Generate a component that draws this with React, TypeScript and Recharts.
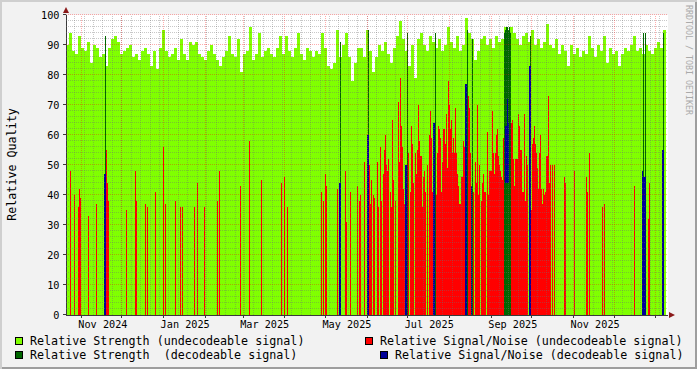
import React from 'react';
import { ComposedChart, Area, XAxis, YAxis, ReferenceLine, CartesianGrid } from 'recharts';

// ---- time base (one consolidated RRD row per step) ----
const DAY_MS = 86400000;
const START_MS = Date.UTC(2024, 9, 20, 15, 36);
const STEP_MS = 64066000;
const STEPS = 602;
const END_MS = START_MS + STEPS * STEP_MS;

// Relative Strength (undecodeable signal), one value per 3 steps
const STRENGTH_UNDEC = [
  90, 94, 88, 87, 93, 89, 88, 91, 84, 90, 89, 86, 87, 83, 89, 92, 93, 91, 87, 88, 89, 90, 86, 87, 85, 88, 89, 87, 83, 88, 82, 89, 95,
  88, 86, 87, 89, 85, 92, 87, 85, 91, 90, 91, 87, 86, 85, 88, 90, 87, 85, 83, 86, 88, 93, 87, 86, 92, 81, 87, 88, 96, 85, 87, 94, 86,
  88, 89, 87, 86, 89, 93, 87, 93, 88, 86, 89, 94, 87, 85, 89, 88, 86, 88, 87, 94, 89, 83, 82, 84, 95, 86, 90, 94, 86, 78, 84, 89, 89, 86, 95, 88,
  81, 86, 90, 88, 91, 87, 84, 89, 93, 98, 92, 88, 83, 90, 79, 92, 94, 90, 88, 93, 91, 89, 92, 88, 90, 96, 91, 89, 93, 88, 90, 99, 94, 92, 85,
  88, 92, 93, 90, 92, 89, 93, 91, 92, 96, 95, 96, 94, 92, 90, 93, 94, 91, 95, 90, 92, 89, 91, 97, 90, 89, 92, 87, 90, 88, 83, 90, 87, 89, 86,
  88, 87, 93, 89, 86, 90, 88, 93, 84, 89, 87, 88, 83, 87, 89, 88, 90, 93, 88, 89, 87, 90, 88, 87, 89, 91, 89, 95,
];

// Relative Signal/Noise (undecodeable signal): [step, value]
const SNR_UNDEC: [number, number][] = [
  [4, 48], [8, 40], [12, 36], [13, 42], [14, 39], [22, 33], [30, 37], [40, 55], [41, 44], [42, 38], [60, 35], [69, 48], [70, 38],
  [79, 37], [81, 36], [89, 41], [97, 56], [99, 37], [109, 38], [114, 36], [116, 36], [128, 36], [131, 44], [138, 36], [151, 38],
  [153, 48], [174, 43], [183, 58], [195, 45], [215, 44], [218, 46], [221, 36], [255, 41], [257, 38], [259, 47], [260, 43], [271, 42],
  [279, 48], [280, 31], [284, 41], [291, 43], [293, 38], [294, 40], [298, 51], [303, 50], [304, 37], [305, 45], [307, 40], [308, 39],
  [311, 51], [312, 36], [314, 56], [315, 38], [317, 47], [318, 55], [319, 60], [320, 50], [321, 48], [322, 52], [324, 41], [325, 36],
  [326, 65], [327, 45], [329, 38], [332, 71], [333, 51], [334, 79], [335, 63], [336, 56], [337, 42], [338, 37], [342, 54], [344, 41],
  [345, 63], [346, 57], [347, 44], [349, 54], [350, 47], [351, 55], [352, 70], [353, 58], [354, 53], [355, 53], [356, 36], [357, 46],
  [358, 48], [359, 41], [361, 50], [363, 60], [364, 68], [365, 59], [366, 41], [370, 40], [371, 54], [372, 63], [373, 62], [374, 59],
  [375, 41], [376, 51], [377, 62], [378, 62], [379, 57], [380, 67], [381, 49], [382, 78], [383, 70], [384, 62], [385, 65], [386, 54],
  [387, 59], [388, 54], [389, 69], [390, 54], [391, 47], [392, 43], [393, 37], [394, 37], [395, 46], [396, 46], [397, 58], [398, 56],
  [402, 73], [403, 69], [404, 54], [407, 41], [409, 51], [410, 44], [411, 70], [412, 40], [413, 50], [415, 38], [416, 44], [417, 47],
  [418, 41], [419, 41], [421, 61], [422, 40], [423, 48], [424, 48], [425, 48], [426, 68], [427, 54], [428, 47], [429, 54], [430, 60],
  [431, 62], [432, 53], [433, 50], [434, 48], [435, 46], [436, 45], [437, 59], [445, 64], [446, 65], [447, 52], [448, 43], [449, 52],
  [450, 52], [451, 52], [452, 67], [453, 63], [454, 55], [455, 55], [456, 41], [457, 41], [458, 67], [459, 38], [460, 53], [461, 50],
  [465, 35], [466, 57], [467, 59], [468, 63], [469, 57], [470, 54], [471, 49], [472, 42], [473, 54], [474, 60], [475, 42], [476, 37],
  [477, 42], [478, 40], [479, 41], [480, 53], [481, 53], [482, 73], [483, 44], [484, 50], [486, 50], [488, 50], [498, 46], [499, 44],
  [508, 48], [520, 46], [521, 41], [523, 54], [536, 36], [538, 37], [568, 43], [582, 32], [583, 44],
];

// Relative Strength (decodeable signal): [step, value]
const STRENGTH_DEC: [number, number][] = [
  [39, 93], [274, 91], [302, 95], [341, 94], [369, 94], [401, 95], [406, 92], [438, 94], [439, 95], [440, 96], [441, 96],
  [442, 95], [443, 96], [444, 94], [464, 93], [577, 94], [579, 94], [597, 94],
];

// Relative Signal/Noise (decodeable signal): [step, top, bottom]
const SNR_DEC: [number, number, number][] = [
  [38, 47, 0], [39, 47, 0], [273, 44, 0], [274, 44, 0], [301, 60, 0], [302, 60, 0], [339, 50, 0], [340, 50, 0], [367, 64, 0],
  [368, 64, 0], [399, 77, 0], [400, 77, 0], [405, 43, 0], [439, 63, 44], [440, 63, 44], [441, 72, 44], [442, 64, 44],
  [463, 83, 0], [464, 83, 0], [576, 48, 0], [577, 46, 0], [578, 46, 0], [579, 46, 0], [596, 55, 0], [597, 55, 0],
];

const Y_TICKS = [0, 10, 20, 30, 40, 50, 60, 70, 80, 90, 100];
const MONTH_NAMES = ['Jan', 'Feb', 'Mar', 'Apr', 'May', 'Jun', 'Jul', 'Aug', 'Sep', 'Oct', 'Nov', 'Dec'];
const LABEL_MONTHS: [number, number][] = [[2024, 10], [2025, 0], [2025, 2], [2025, 4], [2025, 6], [2025, 8], [2025, 10]];
const FIRST_SUNDAY_MS = Date.UTC(2024, 9, 27);

const C_LIGHT = '#80ff00';
const C_DARK = '#006600';
const C_RED = '#ff0000';
const C_BLUE = '#000099';
const C_AXIS = '#3a3a3a';
const C_ARROW = '#8b1a1a';
const FONT = '"DejaVu Sans Mono", monospace';

// ---- derived table ----
const snrMap = new Map(SNR_UNDEC);
const strDecMap = new Map(STRENGTH_DEC);
const snrDecMap = new Map(SNR_DEC.map((r) => [r[0], r]));
const TABLE = Array.from({ length: STEPS - 1 }, (_, i) => {
  const dec = snrDecMap.get(i);
  return {
    t: START_MS + i * STEP_MS,
    strength: STRENGTH_UNDEC[Math.min(Math.floor(i / 3), STRENGTH_UNDEC.length - 1)],
    snr: snrMap.get(i) ?? 0,
    strengthDec: strDecMap.get(i) ?? 0,
    snrDecLo: dec ? dec[2] : 0,
    snrDecHi: dec ? dec[1] : 0,
  };
});

const MONTH_STARTS: number[] = [];
for (let y = 2024, m = 10; Date.UTC(y, m, 1) < END_MS; m === 11 ? (y++, (m = 0)) : m++) {
  MONTH_STARTS.push(Date.UTC(y, m, 1));
}
const WEEKS: number[] = [];
for (let t = FIRST_SUNDAY_MS; t < END_MS; t += 7 * DAY_MS) WEEKS.push(t);
const LABEL_TICKS = LABEL_MONTHS.map(([y, m]) => Date.UTC(y, m, 17));
const LABEL_TEXT = new Map(LABEL_MONTHS.map(([y, m]) => [Date.UTC(y, m, 17), `${MONTH_NAMES[m]} ${y}`]));
const MONTH_SET = new Set(MONTH_STARTS);
const X_TICKS = [...MONTH_STARTS, ...LABEL_TICKS].sort((a, b) => a - b);

const MINOR_Y: number[] = [];
for (let v = 2; v < 100; v += 2) if (v % 10 !== 0) MINOR_Y.push(v);
const MAJOR_Y = Y_TICKS.filter((v) => v > 0);

const hLine = (stroke: string) => (p: any) => {
  const y = Math.round(p.y1) - 0.5;
  return <line x1={p.x1} x2={p.x2} y1={y} y2={y} stroke={stroke} strokeWidth={1} strokeDasharray="1 1" />;
};
const vLine = (stroke: string) => (p: any) => {
  const x = Math.floor(p.x1) + 0.5;
  return <line x1={x} x2={x} y1={p.y1} y2={p.y2} stroke={stroke} strokeWidth={1} strokeDasharray="1 1" />;
};
const MINOR_C = 'rgba(110,110,110,0.38)';
const MAJOR_C = 'rgba(255,0,0,0.32)';

const renderXTick = (props: any) => {
  const { x, y, payload } = props;
  const v = payload.value;
  if (MONTH_SET.has(v)) {
    const xx = Math.floor(x) + 0.5;
    return <line x1={xx} x2={xx} y1={y} y2={y + 3} stroke={C_AXIS} />;
  }
  return (
    <text x={x} y={y + 12.5} textAnchor="middle" fontFamily={FONT} fontSize={10.2} fill="#000">
      {LABEL_TEXT.get(v)}
    </text>
  );
};

const renderYTick = (props: any) => {
  const { x, y, payload } = props;
  const yy = Math.round(y) - 0.5;
  return (
    <g>
      <line x1={x - 3} x2={x} y1={yy} y2={yy} stroke={C_AXIS} />
      <text x={x - 6.5} y={y} dy="0.36em" textAnchor="end" fontFamily={FONT} fontSize={10.2} fill="#000">
        {payload.value}
      </text>
    </g>
  );
};

const LEGEND = [
  { color: C_LIGHT, text: 'Relative Strength (undecodeable signal)', bx: 15.5, by: 337.5, tx: 30, ty: 345 },
  { color: C_RED, text: 'Relative Signal/Noise (undecodeable signal)', bx: 365.5, by: 337.5, tx: 380, ty: 345 },
  { color: C_DARK, text: 'Relative Strength  (decodeable signal)', bx: 15.5, by: 351.5, tx: 30, ty: 359 },
  { color: C_BLUE, text: 'Relative Signal/Noise (decodeable signal)', bx: 380.5, by: 351.5, tx: 395, ty: 359 },
];

export default function App() {
  return (
    <div
      style={{
        position: 'fixed',
        left: 0,
        top: 0,
        width: 697,
        height: 369,
        background: '#f2f2f2',
        boxShadow: 'inset 2px 2px 0 #cfcfcf, inset -2px -2px 0 #9e9e9e',
        overflow: 'hidden',
      }}
    >
      <ComposedChart width={697} height={369} data={TABLE} margin={{ top: 15, right: 29, bottom: 0, left: 0 }}>
        <CartesianGrid fill="#ffffff" horizontal={false} vertical={false} />
        <XAxis
          dataKey="t"
          type="number"
          domain={[START_MS, END_MS]}
          allowDataOverflow
          ticks={X_TICKS}
          interval={0}
          tick={renderXTick}
          tickLine={false}
          tickSize={0}
          tickMargin={0}
          height={54}
          axisLine={{ stroke: C_AXIS, shapeRendering: 'crispEdges' }}
        />
        <YAxis
          type="number"
          domain={[0, 100]}
          allowDataOverflow
          ticks={Y_TICKS}
          interval={0}
          tick={renderYTick}
          tickLine={false}
          tickSize={0}
          tickMargin={0}
          width={66}
          axisLine={{ stroke: C_AXIS, shapeRendering: 'crispEdges' }}
        />
        <Area dataKey="strength" type="stepAfter" stroke="none" fill={C_LIGHT} fillOpacity={1} isAnimationActive={false} dot={false} activeDot={false} />
        <Area dataKey="snr" type="stepAfter" stroke="none" fill={C_RED} fillOpacity={1} isAnimationActive={false} dot={false} activeDot={false} />
        <Area dataKey="strengthDec" type="stepAfter" stroke="none" fill={C_DARK} fillOpacity={1} isAnimationActive={false} dot={false} activeDot={false} />
        <Area dataKey={(d: any) => [d.snrDecLo, d.snrDecHi]} type="stepAfter" stroke="none" fill={C_BLUE} fillOpacity={1} isAnimationActive={false} dot={false} activeDot={false} />
        {MINOR_Y.map((v) => (
          <ReferenceLine key={`my${v}`} y={v} shape={hLine(MINOR_C)} zIndex={700} />
        ))}
        {WEEKS.map((t) => (
          <ReferenceLine key={`mx${t}`} x={t} shape={vLine(MINOR_C)} zIndex={700} />
        ))}
        {MAJOR_Y.map((v) => (
          <ReferenceLine key={`My${v}`} y={v} shape={hLine(MAJOR_C)} zIndex={710} />
        ))}
        {MONTH_STARTS.map((t) => (
          <ReferenceLine key={`Mx${t}`} x={t} shape={vLine(MAJOR_C)} zIndex={710} />
        ))}
      </ComposedChart>
      <svg width={697} height={369} style={{ position: 'absolute', left: 0, top: 0, pointerEvents: 'none' }}>
        <polygon points="63,13 69,13 66,7" fill={C_ARROW} />
        <polygon points="669,312 669,318 675,315" fill={C_ARROW} />
        <text transform="translate(12,164.5) rotate(-90)" textAnchor="middle" dy="0.35em" fontFamily={FONT} fontSize={11.7} fill="#000">
          Relative Quality
        </text>
        <text transform="translate(688.5,5) rotate(90)" textAnchor="start" dy="0.35em" fontFamily={FONT} fontSize={8.3} fill="#aaaaaa">
          RRDTOOL / TOBI OETIKER
        </text>
        {LEGEND.map((l) => (
          <g key={l.text}>
            <rect x={l.bx} y={l.by} width={7} height={7} fill={l.color} stroke="#000" strokeWidth={1} />
            <text x={l.tx} y={l.ty} fontFamily={FONT} fontSize={11.7} fill="#000" style={{ whiteSpace: 'pre' }}>
              {l.text}
            </text>
          </g>
        ))}
      </svg>
    </div>
  );
}
